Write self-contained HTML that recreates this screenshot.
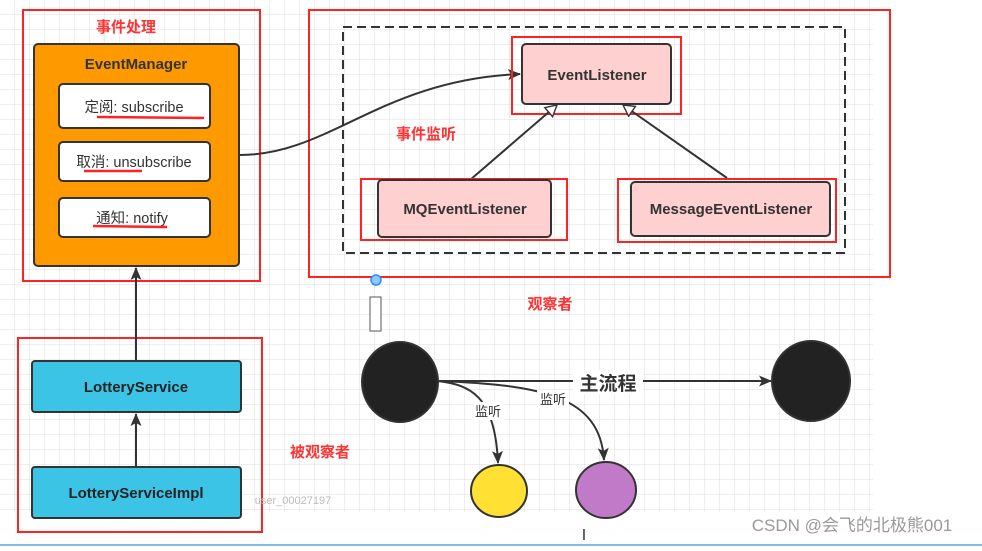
<!DOCTYPE html>
<html><head><meta charset="utf-8"><style>
body{margin:0;width:982px;height:546px;overflow:hidden;background:#fff;font-family:"Liberation Sans","Noto Sans CJK SC",sans-serif;}
</style></head><body>
<svg width="982" height="546" xmlns="http://www.w3.org/2000/svg" font-family="Liberation Sans, Noto Sans CJK SC, sans-serif">
<defs>
<pattern id="g" width="15" height="15" patternUnits="userSpaceOnUse"><path d="M15 0V15H0" fill="none" stroke="#dedede" stroke-width="1"/></pattern>
<marker id="a" markerWidth="14" markerHeight="14" refX="12" refY="7" orient="auto" markerUnits="userSpaceOnUse"><path d="M0,1.5 L13,7 L0,12.5 L3,7z" fill="#333"/></marker>
<marker id="t" markerWidth="14" markerHeight="14" refX="12" refY="7" orient="auto" markerUnits="userSpaceOnUse"><path d="M1,1 L12,7 L1,13z" fill="#fff" stroke="#333" stroke-width="1.4"/></marker>
</defs>
<rect x="0" y="0" width="873" height="512" fill="url(#g)"/>
<rect x="23" y="10" width="237" height="271" fill="none" stroke="#f22" stroke-width="2"/>
<text x="126" y="32" fill="#f33" font-size="15" font-weight="bold" text-anchor="middle">事件处理</text>
<rect x="34" y="44" width="205" height="222" rx="4" fill="#ff9900" stroke="#333" stroke-width="2"/>
<text x="136" y="69" fill="#333" font-size="15" font-weight="bold" text-anchor="middle">EventManager</text>
<rect x="59" y="84" width="151" height="44" rx="4" fill="#fff" stroke="#333" stroke-width="2"/>
<text x="134" y="112" fill="#333" font-size="14.5" text-anchor="middle">定阅: subscribe</text>
<line x1="97" y1="117" x2="204" y2="118" stroke="#f22" stroke-width="2.5"/>
<rect x="59" y="142" width="151" height="39" rx="4" fill="#fff" stroke="#333" stroke-width="2"/>
<text x="134" y="167" fill="#333" font-size="14.5" text-anchor="middle">取消: unsubscribe</text>
<line x1="84" y1="171" x2="142" y2="171" stroke="#f22" stroke-width="2.5"/>
<rect x="59" y="198" width="151" height="39" rx="4" fill="#fff" stroke="#333" stroke-width="2"/>
<text x="132" y="223" fill="#333" font-size="14.5" text-anchor="middle">通知: notify</text>
<line x1="93" y1="226" x2="167" y2="227" stroke="#f22" stroke-width="2.5"/>
<rect x="309" y="10" width="581" height="267" fill="none" stroke="#f22" stroke-width="2"/>
<rect x="343" y="27" width="502" height="226" fill="none" stroke="#333" stroke-width="2" stroke-dasharray="9,5"/>
<path d="M240,155 C330,155 380,80 520,74" fill="none" stroke="#333" stroke-width="2" marker-end="url(#a)"/>
<text x="426" y="139" fill="#f33" font-size="15" font-weight="bold" text-anchor="middle">事件监听</text>
<rect x="512" y="37" width="169" height="77" fill="none" stroke="#f22" stroke-width="2"/>
<rect x="522" y="44" width="149" height="60" rx="4" fill="#ffd0d0" stroke="#333" stroke-width="2"/>
<text x="597" y="80" fill="#333" font-size="15" font-weight="bold" text-anchor="middle">EventListener</text>
<line x1="470" y1="180" x2="557" y2="105" stroke="#333" stroke-width="2" marker-end="url(#t)"/>
<line x1="727" y1="178" x2="623" y2="105" stroke="#333" stroke-width="2" marker-end="url(#t)"/>
<rect x="361" y="179" width="206" height="61" fill="none" stroke="#f22" stroke-width="2"/>
<rect x="378" y="180" width="173" height="57" rx="4" fill="#ffd0d0" stroke="#333" stroke-width="2"/>
<text x="465" y="214" fill="#333" font-size="15" font-weight="bold" text-anchor="middle">MQEventListener</text>
<rect x="618" y="179" width="218" height="63" fill="none" stroke="#f22" stroke-width="2"/>
<rect x="631" y="182" width="199" height="54" rx="4" fill="#ffd0d0" stroke="#333" stroke-width="2"/>
<text x="731" y="214" fill="#333" font-size="15" font-weight="bold" text-anchor="middle">MessageEventListener</text>
<circle cx="376" cy="280" r="5" fill="#8cf" stroke="#38f" stroke-width="1.5"/>
<rect x="370" y="297" width="11" height="34" fill="#fff" stroke="#555" stroke-width="1"/>
<text x="550" y="309" fill="#f33" font-size="15" font-weight="bold" text-anchor="middle">观察者</text>
<rect x="18" y="338" width="244" height="194" fill="none" stroke="#f22" stroke-width="2"/>
<rect x="32" y="361" width="209" height="51" rx="3" fill="#3cc4e6" stroke="#333" stroke-width="2"/>
<text x="136" y="392" fill="#222" font-size="15" font-weight="bold" text-anchor="middle">LotteryService</text>
<rect x="32" y="467" width="209" height="51" rx="3" fill="#3cc4e6" stroke="#333" stroke-width="2"/>
<text x="136" y="498" fill="#222" font-size="15" font-weight="bold" text-anchor="middle">LotteryServiceImpl</text>
<line x1="136" y1="466" x2="136" y2="414" stroke="#333" stroke-width="2" marker-end="url(#a)"/>
<line x1="136" y1="360" x2="136" y2="268" stroke="#333" stroke-width="2" marker-end="url(#a)"/>
<text x="320" y="457" fill="#f33" font-size="15" font-weight="bold" text-anchor="middle">被观察者</text>
<text x="293" y="504" fill="#bbb" font-size="11" text-anchor="middle">user_00027197</text>
<line x1="438" y1="381" x2="771" y2="381" stroke="#333" stroke-width="2" marker-end="url(#a)"/>
<rect x="573" y="370" width="70" height="24" fill="#fff"/>
<text x="608" y="390" fill="#333" font-size="19" font-weight="bold" text-anchor="middle">主流程</text>
<path d="M438,381 C470,385 495,395 498,463" fill="none" stroke="#333" stroke-width="2" marker-end="url(#a)"/>
<path d="M438,381 C540,385 600,395 604,460" fill="none" stroke="#333" stroke-width="2" marker-end="url(#a)"/>
<rect x="472" y="402" width="32" height="18" fill="#fff"/>
<text x="488" y="416" fill="#333" font-size="13" text-anchor="middle">监听</text>
<rect x="537" y="390" width="32" height="18" fill="#fff"/>
<text x="553" y="404" fill="#333" font-size="13" text-anchor="middle">监听</text>
<ellipse cx="400" cy="382" rx="38" ry="40" fill="#222" stroke="#333" stroke-width="2"/>
<ellipse cx="811" cy="381" rx="39" ry="40" fill="#222" stroke="#333" stroke-width="2"/>
<ellipse cx="499" cy="491" rx="28" ry="26" fill="#ffe033" stroke="#333" stroke-width="2"/>
<ellipse cx="606" cy="490" rx="30" ry="28" fill="#c07ac8" stroke="#333" stroke-width="2"/>
<text x="584" y="540" fill="#333" font-size="16" text-anchor="middle">I</text>
<line x1="0" y1="545" x2="982" y2="545" stroke="#8bd" stroke-width="2"/>
<text x="852" y="531" fill="#999" font-size="17" text-anchor="middle">CSDN @会飞的北极熊001</text>
</svg>
</body></html>
